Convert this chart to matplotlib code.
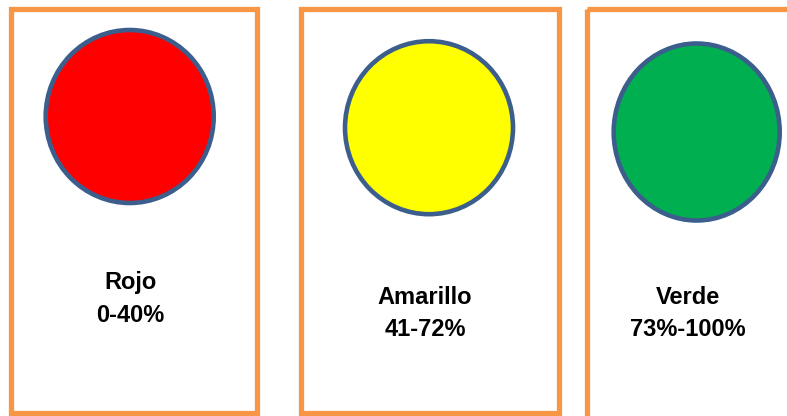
import matplotlib.pyplot as plt
from matplotlib.patches import Rectangle, Ellipse

# semaforo: nombre, rango y color
names = ['Rojo', 'Amarillo', 'Verde']
ranges = ['0-40%', '41-72%', '73%-100%']
fill_colors = ['#FF0000', '#FFFF00', '#00B050']

# layout (pixels, origin top-left)
box_x = [10.5, 300.5, 587.0]
box_w = [246, 258, 240]
box_h = [404.5, 404.5, 412]
box_y = 8.5
circ_cx = [129.7, 429.0, 696.7]
circ_cy = [116.5, 127.7, 132.0]
circ_w = [168, 168, 166]
circ_h = [173, 173, 177]
text_x = [130, 425, 688]
text_y = [283, 297, 298]

fig = plt.figure(figsize=(7.87, 4.16), dpi=100)
ax = fig.add_axes([0, 0, 1, 1])
ax.set_xlim(0, 787)
ax.set_ylim(416, 0)
ax.axis('off')

for i in range(len(names)):
    ax.add_patch(Rectangle((box_x[i], box_y), box_w[i], box_h[i], fill=False,
                           edgecolor='#F79646', linewidth=3.8))
    ax.add_patch(Ellipse((circ_cx[i], circ_cy[i]), circ_w[i], circ_h[i],
                         facecolor=fill_colors[i], edgecolor='#3B5E8C',
                         linewidth=3.3))
    ax.text(text_x[i], text_y[i], names[i], ha='center', va='center',
            fontsize=17, fontweight='bold', family='Liberation Sans')
    ax.text(text_x[i], text_y[i] + 32, ranges[i], ha='center', va='center',
            fontsize=17, fontweight='bold', family='Liberation Sans')

fig.savefig('out.png', dpi=100)
